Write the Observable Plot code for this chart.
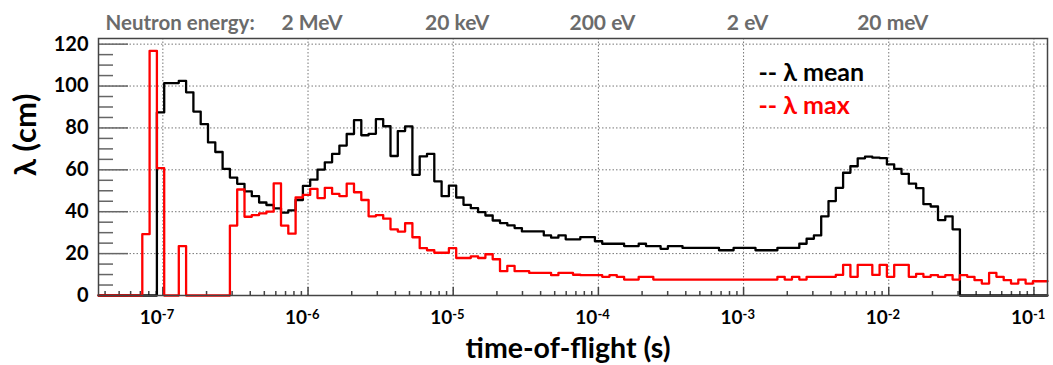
<!DOCTYPE html>
<html>
<head>
<meta charset="utf-8">
<script src="https://cdn.jsdelivr.net/npm/d3@7"></script>
<script src="https://cdn.jsdelivr.net/npm/@observablehq/plot@0.6"></script>
<style>
  html, body { margin: 0; padding: 0; background: #fff; }
</style>
</head>
<body>
<div id="chart"></div>
<script>
// Histogram binning: log10 of time-of-flight range (s), uniform in log
const binLogLo = -7.4432;
const binLogHi = -0.9066;
const nBins = 130;

// λ mean (cm) per bin
const lambdaMean = [
  0, 0, 0, 0, 0, 0, 0, 0,
  87.4, 101.4, 101.4, 102.5, 97, 87.8, 81.8, 73.1, 68.5, 60.5,
  56.3, 53.3, 49.7, 47.4, 44.4, 43.2, 41.6, 39.6, 40.6, 45.6,
  52.3, 55.3, 60.1, 63.6, 67.6, 71.6, 77.1, 83.7, 76.5, 77.2,
  84.2, 80.8, 66.6, 78.5, 80.7, 57.6, 66.4, 67.6, 54.5, 47.4,
  52.5, 46.8, 43.3, 41.7, 39.8, 38.2, 35.8, 34.6, 33.5, 32.2,
  30.6, 30.6, 30.6, 28.7, 27.6, 28.7, 26.8, 26.8, 27.9, 27.9,
  25.9, 24.7, 24.7, 24.7, 23.6, 23.6, 24.7, 23.6, 23.6, 22.3,
  23.6, 23.6, 22.7, 22.7, 22.7, 22.7, 22.7, 21.6, 21.6, 22.7,
  22.7, 22.7, 21.6, 21.6, 21.6, 22.7, 22.7, 22.7, 24.7, 27.1,
  28.7, 37.8, 45.1, 51.4, 58.6, 61.7, 65.5, 66.3, 65.8, 65.6,
  62.6, 60.5, 58.1, 53.4, 51.3, 43.6, 42.5, 36, 37.8, 31.6,
  0, 0, 0, 0, 0, 0, 0, 0, 0, 0, 0, 0
];

// λ max (cm) per bin
const lambdaMax = [
  0, 0, 0, 0, 0, 0,
  29.3, 116.8, 60.8, 0,
  0, 23.6, 0, 0, 0, 0, 0, 0, 33.4, 50.6,
  37.6, 38.4, 39.2, 40, 53.5, 33.4, 29.5, 46.8, 48, 50.9,
  46.5, 51.4, 48.5, 47.4, 53.4, 49.3, 45.6, 37.8, 38.4, 36.7,
  31.6, 30.5, 34.5, 27.8, 22.6, 21.6, 20.4, 20.4, 22.6, 17.9,
  17.9, 18.7, 17.9, 19.7, 17.3, 11.6, 14.1, 11.6, 11.6, 10.8,
  10.8, 10.8, 9.7, 10.8, 10.8, 9.9, 9.7, 9.7, 9.7, 8.9,
  9.7, 8.9, 7.6, 7.6, 8.9, 8.9, 7.6, 7.6, 7.6, 7.6,
  7.6, 7.6, 7.6, 7.6, 7.6, 7.6, 7.6, 7.6, 7.6, 7.6,
  7.6, 7.6, 7.6, 8.9, 7.6, 8.9, 7.6, 8.9, 8.9, 8.9,
  8.9, 9.8, 14.6, 8.9, 14.6, 14.6, 9.8, 14.6, 8.9, 14.6,
  14.6, 8.9, 10.3, 8.9, 9.7, 8.9, 9.7, 7.6, 9.7, 8.9,
  7.3, 5.7, 10.8, 8.9, 7.3, 5.7, 7.6, 5.7, 6.8, 6.8
];

// Axis tick values and labels
const decadeTicks = [1e-7, 1e-6, 1e-5, 1e-4, 1e-3, 1e-2, 1e-1];
const decadeExponents = ["-7", "-6", "-5", "-4", "-3", "-2", "-1"];
const yMajorTicks = [0, 20, 40, 60, 80, 100, 120];
const yMinorTicks = [5, 10, 15, 25, 30, 35, 45, 50, 55, 65, 70, 75, 85, 90, 95, 105, 110, 115];
const energyTof = [1e-6, 1e-5, 1e-4, 1e-3, 1e-2];
const energyLabels = ["2 MeV", "20 keV", "200 eV", "2 eV", "20 meV"];

// Build the step series from the bins
const edges = d3.range(nBins + 1).map(i => 10 ** (binLogLo + i * (binLogHi - binLogLo) / nBins));
const toSteps = (vals) => vals.map((v, i) => ({t: edges[i], v})).concat([{t: edges[nBins], v: vals[nBins - 1]}]);
const meanSteps = toSteps(lambdaMean);
const maxSteps = toSteps(lambdaMax);

const xMinorTicks = [];
for (let e = -8; e <= -1; e++) for (let m = 2; m <= 9; m++) {
  const v = m * 10 ** e;
  if (v > edges[0] && v < edges[nBins]) xMinorTicks.push(v);
}

const FONT = "Lato, 'Open Sans', 'DejaVu Sans', sans-serif";

const chart = Plot.plot({
  width: 1053,
  height: 365,
  marginLeft: 98,
  marginRight: 6,
  marginTop: 38,
  marginBottom: 70,
  style: {fontFamily: FONT, background: "#fff", overflow: "visible"},
  x: {type: "log", domain: [edges[0], edges[nBins]]},
  y: {domain: [0, 122.7]},
  marks: [
    // dotted grid
    Plot.gridX(decadeTicks, {stroke: "#777", strokeOpacity: 1, strokeWidth: 1, strokeDasharray: "1.5,2"}),
    Plot.gridY(yMajorTicks.filter(d => d > 0), {stroke: "#777", strokeOpacity: 1, strokeWidth: 1, strokeDasharray: "1.5,2"}),
    // inward ticks
    Plot.axisY(yMajorTicks, {tickSize: -30, tickFormat: () => "", stroke: "#666", strokeWidth: 1.5, label: null}),
    Plot.axisY(yMinorTicks, {tickSize: -15, tickFormat: () => "", stroke: "#666", strokeWidth: 1.5, label: null}),
    Plot.axisX(decadeTicks, {tickSize: -8, tickFormat: () => "", stroke: "#444", strokeWidth: 1.5, label: null}),
    Plot.axisX(xMinorTicks, {tickSize: -4, tickFormat: () => "", stroke: "#444", strokeWidth: 1.5, label: null}),
    // histograms
    Plot.line(meanSteps, {x: "t", y: "v", curve: "step-after", stroke: "#000", strokeWidth: 2.3}),
    Plot.line(maxSteps, {x: "t", y: "v", curve: "step-after", stroke: "#ff0000", strokeWidth: 2.3}),
    Plot.frame({stroke: "#444", strokeWidth: 1.5}),
    // y tick labels
    Plot.text(yMajorTicks, {y: d => d, frameAnchor: "left", textAnchor: "end", dx: -10, text: d => String(d),
      fontSize: 20, fontWeight: "bold", fill: "#000"}),
    // x tick labels 10^n
    Plot.text(decadeTicks, {x: d => d, frameAnchor: "bottom", textAnchor: "end", lineAnchor: "bottom", dx: -1, dy: 28.5,
      text: () => "10", fontSize: 19, fontWeight: "bold", fill: "#000"}),
    Plot.text(decadeTicks, {x: d => d, frameAnchor: "bottom", textAnchor: "start", lineAnchor: "bottom", dx: -1, dy: 23,
      text: (d, i) => decadeExponents[i], fontSize: 13, fontWeight: "bold", fill: "#000"}),
    // axis titles
    Plot.text(["time-of-flight (s)"], {frameAnchor: "bottom", lineAnchor: "bottom", dx: -5, dy: 62.5,
      fontSize: 28.5, fontWeight: "bold", fill: "#000"}),
    Plot.text(["λ (cm)"], {frameAnchor: "left", rotate: -90, dx: -72, dy: 9, fontSize: 31, fontWeight: "bold", fill: "#000"}),
    // top neutron energy scale
    Plot.text(["Neutron energy:"], {frameAnchor: "top-left", textAnchor: "start", lineAnchor: "bottom", dx: 7, dy: -9,
      fontSize: 20.5, fontWeight: "bold", fill: "#6b6b6b"}),
    Plot.text(energyTof, {x: d => d, text: (d, i) => energyLabels[i], frameAnchor: "top", lineAnchor: "bottom", dx: 4, dy: -9,
      fontSize: 21, fontWeight: "bold", fill: "#6b6b6b"}),
    // legend
    Plot.text(["-- λ mean"], {frameAnchor: "top-left", textAnchor: "start", lineAnchor: "bottom", dx: 660, dy: 42,
      fontSize: 25, fontWeight: "bold", fill: "#000"}),
    Plot.text(["-- λ max"], {frameAnchor: "top-left", textAnchor: "start", lineAnchor: "bottom", dx: 660, dy: 75,
      fontSize: 25, fontWeight: "bold", fill: "#ff0000"})
  ]
});
document.getElementById("chart").appendChild(chart);
</script>
</body>
</html>
